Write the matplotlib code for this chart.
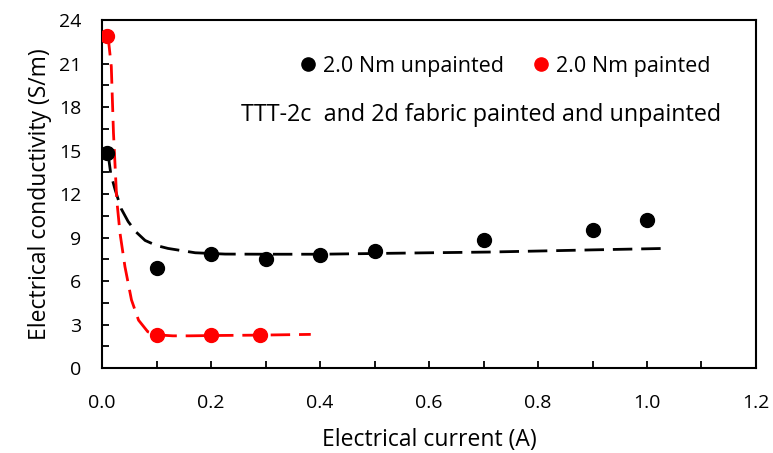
import matplotlib
matplotlib.use("Agg")
import matplotlib.pyplot as plt
from matplotlib.ticker import MultipleLocator, FormatStrFormatter

plt.rcParams["font.family"] = ["Open Sans", "DejaVu Sans"]

# measured points
unp_x = [0.01, 0.1, 0.2, 0.3, 0.4, 0.5, 0.7, 0.9, 1.0]
unp_y = [14.8, 6.9, 7.85, 7.5, 7.8, 8.1, 8.8, 9.5, 10.2]
pnt_x = [0.01, 0.1, 0.2, 0.29]
pnt_y = [22.9, 2.3, 2.3, 2.3]

# trend lines
unp_tx = [0.011, 0.016, 0.024, 0.035, 0.048, 0.062, 0.079, 0.1, 0.121, 0.171,
          0.226, 0.3, 0.4, 0.5, 0.6, 0.71, 0.8, 0.9, 1.033]
unp_ty = [14.8, 13.4, 12.3, 11.0, 10.1, 9.4, 8.8, 8.45, 8.25, 7.95,
          7.86, 7.85, 7.85, 7.9, 7.95, 8.0, 8.07, 8.15, 8.25]
pnt_tx = [0.011, 0.017, 0.019, 0.021, 0.024, 0.027, 0.033, 0.042, 0.054, 0.067,
          0.084, 0.103, 0.13, 0.16, 0.2, 0.29, 0.383]
pnt_ty = [22.9, 20.8, 18.5, 16.2, 13.9, 11.6, 9.3, 7.0, 4.7, 3.3,
          2.5, 2.28, 2.22, 2.22, 2.24, 2.27, 2.32]

fig = plt.figure(figsize=(7.73, 4.53), dpi=100)
ax = fig.add_axes([0.132, 0.1876, 0.846, 0.768])

ax.plot(unp_tx, unp_ty, color="black", lw=2, dashes=(7, 3.2), zorder=2)
ax.plot(pnt_tx, pnt_ty, color="red", lw=2, dashes=(7, 3.2), zorder=2)
ax.plot(unp_x, unp_y, "o", color="black", ms=10, ls="none", zorder=3,
        label="2.0 Nm unpainted")
ax.plot(pnt_x, pnt_y, "o", color="red", ms=10, ls="none", zorder=3,
        label="2.0 Nm painted")

ax.set_xlim(0, 1.2)
ax.set_ylim(0, 24)
ax.xaxis.set_major_locator(MultipleLocator(0.2))
ax.xaxis.set_minor_locator(MultipleLocator(0.1))
ax.yaxis.set_major_locator(MultipleLocator(3))
ax.yaxis.set_minor_locator(MultipleLocator(1.5))
ax.xaxis.set_major_formatter(FormatStrFormatter("%.1f"))
ax.tick_params(which="both", direction="in", length=5, width=1.3, labelsize=14)
ax.tick_params(axis="x", pad=19)
ax.tick_params(axis="y", pad=15)
for s in ax.spines.values():
    s.set_linewidth(1.5)

ax.set_xlabel("Electrical current (A)", fontsize=16.5, labelpad=11)
ax.set_ylabel("Electrical conductivity (S/m)", fontsize=16.5, labelpad=5)

ax.legend(loc="center left", bbox_to_anchor=(0.295, 0.868), ncol=2, frameon=False,
          fontsize=15.5, handletextpad=0.1, columnspacing=1.1, markerscale=0.95,
          borderaxespad=0, borderpad=0, handlelength=1.2)
ax.text(0.58, 0.727, "TTT-2c  and 2d fabric painted and unpainted",
        transform=ax.transAxes, ha="center", va="center", fontsize=16.8)

fig.savefig("out.png", dpi=100)
